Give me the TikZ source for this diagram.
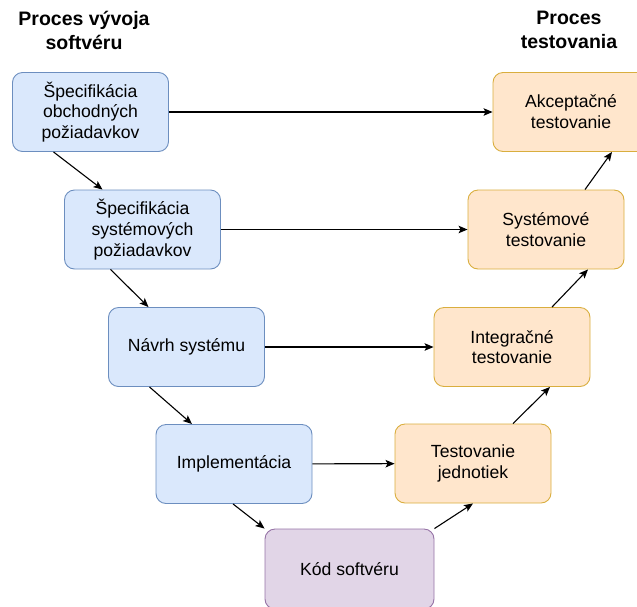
\documentclass[tikz,border=0pt]{standalone}
\usepackage{fontspec}
\setmainfont{Liberation Sans}
\usetikzlibrary{arrows.meta}
\definecolor{bluefill}{HTML}{DAE8FC}
\definecolor{blueline}{HTML}{6C8EBF}
\definecolor{orangefill}{HTML}{FFE6CC}
\definecolor{orangeline}{HTML}{D9AE3E}
\definecolor{violetfill}{HTML}{E1D5E7}
\definecolor{violetline}{HTML}{9673A6}
\begin{document}
\begin{tikzpicture}[
    x=1pt,y=-1pt,
    box/.style={draw,rounded corners=10pt,line width=0.9pt,minimum width=156pt,minimum height=79pt,
        inner sep=0pt,align=center,font=\fontsize{17.6}{20.8}\selectfont},
    devbox/.style={box,fill=bluefill,draw=blueline},
    testbox/.style={box,fill=orangefill,draw=orangeline},
    codebox/.style={box,fill=violetfill,draw=violetline,minimum width=169pt,minimum height=80pt},
    heading/.style={align=center,font=\fontsize{19.5}{24}\selectfont\bfseries},
    >={Stealth[length=9pt,width=7.5pt,inset=2pt]}
]
\useasboundingbox (0,0) rectangle (637,606);
\clip (0,0) rectangle (637,606);

\node[heading] (hdev) at (84,30) {Proces vývoja\\softvéru};
\node[heading] (htest) at (569,30) {Proces\\testovania};

% vyvoj
\node[devbox] (spec1) at (90.5,112) {Špecifikácia\\obchodných\\požiadavkov};
\node[devbox] (spec2) at (142.5,229.5) {Špecifikácia\\systémových\\požiadavkov};
\node[devbox] (design) at (186.5,347) {Návrh systému};
\node[devbox] (impl) at (234,464) {Implementácia};
\node[codebox] (code) at (349.5,569) {Kód softvéru};

% testovanie
\node[testbox] (unit) at (473,463.5) {Testovanie\\jednotiek};
\node[testbox] (integ) at (512,347) {Integračné\\testovanie};
\node[testbox] (systest) at (546,229.5) {Systémové\\testovanie};
\node[testbox] (accept) at (571,112) {Akceptačné\\testovanie};

\begin{scope}[line width=1.1pt]
\draw[->] ([xshift=-37pt]spec1.south) -- ([xshift=-40pt]spec2.north);
\draw[->] ([xshift=-32pt]spec2.south) -- ([xshift=-38pt]design.north);
\draw[->] ([xshift=-37pt]design.south) -- ([xshift=-42pt]impl.north);
\draw[->] ([xshift=-1pt]impl.south) -- (code.north west);
\draw[->] (code.north east) -- (unit.south);
\draw[->] ([xshift=40pt]unit.north) -- ([xshift=38pt]integ.south);
\draw[->] ([xshift=40pt]integ.north) -- ([xshift=42pt]systest.south);
\draw[->] ([xshift=39pt]systest.north) -- ([xshift=41pt]accept.south);

\draw[->] (spec1) -- (accept);
\draw[->] (spec2) -- (systest);
\draw[->] (design) -- (integ);
\draw[->] (impl) -- (unit);
\end{scope}
\end{tikzpicture}
\end{document}
